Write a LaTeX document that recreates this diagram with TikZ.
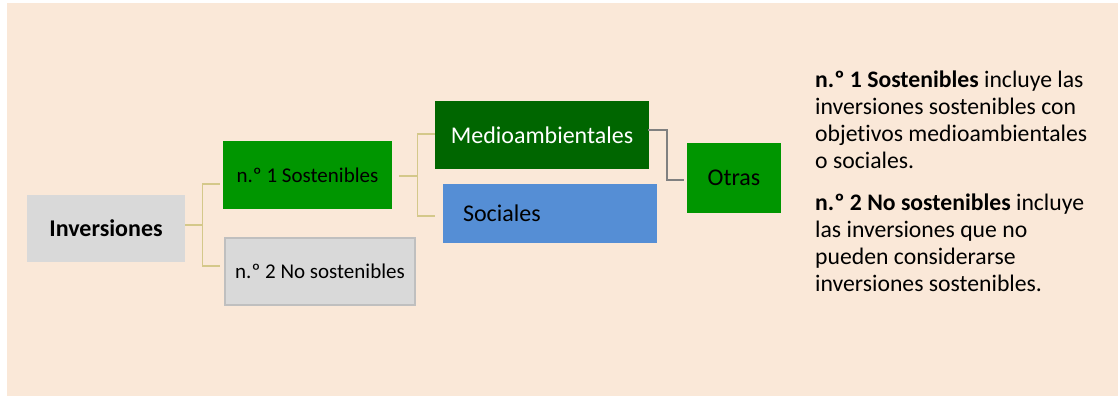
\documentclass[tikz,border=0pt]{standalone}
\usepackage{fontspec}
\setmainfont{Carlito}[Ligatures={NoCommon}]
\definecolor{bgbeige}{RGB}{250,232,216}
\definecolor{boxgray}{RGB}{217,217,217}
\definecolor{bordergray}{RGB}{191,191,191}
\definecolor{midgreen}{RGB}{0,150,0}
\definecolor{darkgreen}{RGB}{0,102,0}
\definecolor{socblue}{RGB}{85,142,213}
\definecolor{treetan}{RGB}{212,200,138}
\definecolor{linkgray}{RGB}{128,128,128}
\tikzset{
  box/.style={rectangle, inner sep=0pt, align=center},
  lvlone/.style={box, font=\fontsize{21}{25}\selectfont},
  lvltwo/.style={box, font=\fontsize{24}{28}\selectfont},
  tree/.style={draw=treetan, line width=1.4pt},
  link/.style={draw=linkgray, line width=2pt},
  note/.style={anchor=base west, text width=300pt, align=flush left, inner sep=0pt,
    font=\fontsize{23.7}{27}\selectfont}
}
\begin{document}
\begin{tikzpicture}[x=1pt,y=-1pt]
\useasboundingbox (0,0) rectangle (1118,396);
\fill[bgbeige] (7,3) rectangle (1118,396);

% nodes
\node[box, fill=boxgray, minimum width=158pt, minimum height=67pt,
      font=\fontsize{24}{28}\selectfont\bfseries] (inv) at (106,228.5) {Inversiones};
\node[lvlone, fill=midgreen, minimum width=169pt, minimum height=68pt] (s1) at (307.5,175) {n.º 1 Sostenibles};
\node[lvlone, fill=boxgray, draw=bordergray, line width=2pt, minimum width=190pt, minimum height=67pt] (s2) at (320,271.5) {n.º 2 No sostenibles};
\node[lvltwo, fill=darkgreen, text=white, minimum width=214pt, minimum height=68pt] (med) at (542,135) {Medioambientales};
\node[lvltwo, fill=socblue, text width=174pt, inner xsep=20pt, align=flush left, minimum height=59pt] (soc) at (550,213.5) {Sociales};
\node[lvltwo, fill=midgreen, minimum width=94pt, minimum height=70pt] (otr) at (734,178) {Otras};

% connectors
\draw[tree] ([yshift=3.5pt]inv.east) -- ++(17,0) coordinate (j1);
\draw[tree] (j1) |- ([xshift=-3pt,yshift=-9pt]s1.west);
\draw[tree] (j1) |- ([xshift=-4pt,yshift=5.5pt]s2.west);
\draw[tree] ([xshift=7pt,yshift=-1pt]s1.east) -- ++(18,0) coordinate (j2);
\draw[tree] (j2) |- ([yshift=1pt]med.west);
\draw[tree] (j2) |- ([xshift=-8pt,yshift=-2.5pt]soc.west);
\draw[link] ([xshift=-1pt,yshift=5pt]med.east) -- ++(19,0) |- ([xshift=-3pt,yshift=-2pt]otr.west);

% notes
\node[note] (n1) at (815,87) {{\bfseries n.º 1 Sostenibles} incluye las\\inversiones sostenibles con\\objetivos medioambientales\\o sociales.};
\node[note] (n2) at (815,210) {{\bfseries n.º 2 No sostenibles} incluye\\las inversiones que no\\pueden considerarse\\inversiones sostenibles.};
\end{tikzpicture}
\end{document}
